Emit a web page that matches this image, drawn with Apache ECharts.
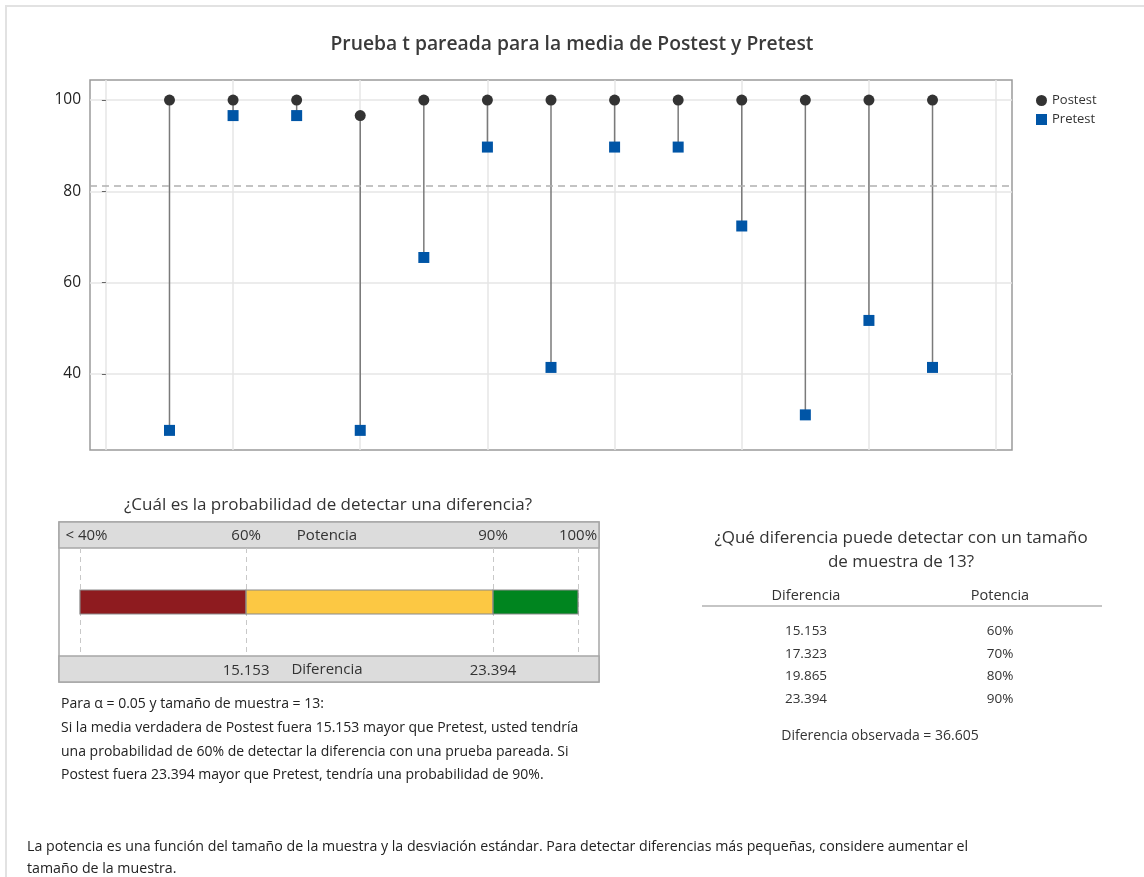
<!DOCTYPE html>
<html>
<head>
<meta charset="utf-8">
<script src="https://cdn.jsdelivr.net/npm/echarts@6/dist/echarts.min.js"></script>
<style>
  html, body { margin: 0; padding: 0; background: #fff; }
  #main { width: 1144px; height: 877px; }
</style>
</head>
<body>
<div id="main"></div>
<script>
// datos de la grafica de valores individuales
var obs = [1, 2, 3, 4, 5, 6, 7, 8, 9, 10, 11, 12, 13]
var postest = [100, 100, 100, 96.6, 100, 100, 100, 100, 100, 100, 100, 100, 100]
var pretest = [27.6, 96.6, 96.6, 27.6, 65.5, 89.7, 41.4, 89.7, 89.7, 72.4, 31.0, 51.7, 41.4]
var grandMean = 81.3
var yTicks = [40, 60, 80, 100]
var xGridTicks = [0, 2, 4, 6, 8, 10, 12, 14]

// barra de potencia (escala de diferencia)
var powerBreaks = [9.61, 15.153, 23.394, 26.23]
var powerLabels = ['< 40%', '60%', '90%', '100%']
var diffTicks = [15.153, 23.394]
var segColors = ['#8e1b1f', '#fcc843', '#00851f']

// tabla de la derecha
var tableDiff = ['15.153', '17.323', '19.865', '23.394']
var tablePower = ['60%', '70%', '80%', '90%']
var observedDiff = '36.605'

var FONT = "'Segoe UI', 'Open Sans', sans-serif"

var pairData = obs.map(function (x, i) { return [x, postest[i], pretest[i]] })
var postData = obs.map(function (x, i) { return [x, postest[i]] })
var preData = obs.map(function (x, i) { return [x, pretest[i]] })
var segData = []
for (var i = 0; i < powerBreaks.length - 1; i++) {
  segData.push([powerBreaks[i], powerBreaks[i + 1], 0])
}

var graphics = [
  // marco de la pagina
  { type: 'rect', z: -10, shape: { x: 6, y: 6, width: 1160, height: 900 }, style: { fill: 'none', stroke: '#e2e2e2', lineWidth: 2 } },
  // caja de potencia
  { type: 'rect', z: -5, shape: { x: 59, y: 522, width: 540, height: 160 }, style: { fill: '#fff', stroke: '#a6a6a6', lineWidth: 1.5 } },
  { type: 'rect', z: -4, shape: { x: 59, y: 522, width: 540, height: 26 }, style: { fill: '#dcdcdc', stroke: '#a6a6a6', lineWidth: 1.5 } },
  { type: 'rect', z: -4, shape: { x: 59, y: 656, width: 540, height: 26 }, style: { fill: '#dcdcdc', stroke: '#a6a6a6', lineWidth: 1.5 } },
  { type: 'text', z: 10, x: 327, y: 536, style: { text: 'Potencia', fill: '#333', font: '15px ' + FONT, textAlign: 'center', textVerticalAlign: 'middle' } },
  { type: 'text', z: 10, x: 327, y: 670, style: { text: 'Diferencia', fill: '#333', font: '15px ' + FONT, textAlign: 'center', textVerticalAlign: 'middle' } },
  // tabla
  { type: 'text', x: 806, y: 596, style: { text: 'Diferencia', fill: '#333', font: '14.5px ' + FONT, textAlign: 'center', textVerticalAlign: 'middle' } },
  { type: 'text', x: 1000, y: 596, style: { text: 'Potencia', fill: '#333', font: '14.5px ' + FONT, textAlign: 'center', textVerticalAlign: 'middle' } },
  { type: 'line', shape: { x1: 702, y1: 606, x2: 1102, y2: 606 }, style: { stroke: '#8c8c8c', lineWidth: 1.2 } },
  { type: 'text', x: 880, y: 736, style: { text: 'Diferencia observada = ' + observedDiff, fill: '#333', font: '14px ' + FONT, textAlign: 'center', textVerticalAlign: 'middle' } }
]
tableDiff.forEach(function (d, i) {
  graphics.push({ type: 'text', x: 806, y: 631 + i * 22.7, style: { text: d, fill: '#333', font: '13.5px ' + FONT, textAlign: 'center', textVerticalAlign: 'middle' } })
  graphics.push({ type: 'text', x: 1000, y: 631 + i * 22.7, style: { text: tablePower[i], fill: '#333', font: '13.5px ' + FONT, textAlign: 'center', textVerticalAlign: 'middle' } })
})

// textos de interpretacion
var notes = [
  'Para α = 0.05 y tamaño de muestra = 13:',
  'Si la media verdadera de Postest fuera 15.153 mayor que Pretest, usted tendría',
  'una probabilidad de 60% de detectar la diferencia con una prueba pareada. Si',
  'Postest fuera 23.394 mayor que Pretest, tendría una probabilidad de 90%.'
]
notes.forEach(function (t, i) {
  graphics.push({ type: 'text', x: 61, y: 704 + i * 23.8, style: { text: t, fill: '#222', font: '14px ' + FONT, textVerticalAlign: 'middle' } })
})
var footer = [
  'La potencia es una función del tamaño de la muestra y la desviación estándar. Para detectar diferencias más pequeñas, considere aumentar el',
  'tamaño de la muestra.'
]
footer.forEach(function (t, i) {
  graphics.push({ type: 'text', x: 27, y: 847 + i * 22, style: { text: t, fill: '#222', font: '14.2px ' + FONT, textVerticalAlign: 'middle' } })
})

var chart = echarts.init(document.getElementById('main'))
chart.setOption({
  animation: false,
  textStyle: { fontFamily: FONT },
  title: [
    { text: 'Prueba t pareada para la media de Postest y Pretest', left: 'center', top: 30, textStyle: { fontSize: 19.3, fontWeight: 600, color: '#3a3a3a' } },
    { text: '¿Cuál es la probabilidad de detectar una diferencia?', left: 323, textAlign: 'center', top: 492, textStyle: { fontSize: 17, fontWeight: 'normal', color: '#333' } },
    { text: '¿Qué diferencia puede detectar con un tamaño\nde muestra de 13?', left: 896, textAlign: 'center', top: 521, textStyle: { fontSize: 17, fontWeight: 'normal', color: '#333', lineHeight: 24, align: 'center' } }
  ],
  legend: {
    left: 1031, top: 89, orient: 'vertical', itemWidth: 11, itemHeight: 11, itemGap: 6,
    textStyle: { fontSize: 13, color: '#333' },
    data: ['Postest', 'Pretest']
  },
  grid: [
    { left: 90, right: 132, top: 80, bottom: 427, show: true, borderColor: '#9a9a9a', borderWidth: 1.5, backgroundColor: 'transparent' },
    { left: 59, right: 545, top: 548, bottom: 221 }
  ],
  xAxis: [
    {
      type: 'value', gridIndex: 0, min: -0.25, max: 14.25,
      axisLine: { show: false },
      axisTick: { show: false, customValues: xGridTicks },
      axisLabel: { show: false, customValues: xGridTicks },
      splitLine: { show: true, lineStyle: { color: '#e6e6e6', width: 1.5 } }
    },
    {
      type: 'value', gridIndex: 1, position: 'bottom', min: 8.91, max: 26.93,
      axisLine: { show: false },
      axisTick: { show: false, customValues: diffTicks },
      axisLabel: { customValues: diffTicks, margin: 7, fontSize: 15, color: '#333', formatter: function (v) { return v.toFixed(3) } },
      splitLine: { show: false }
    },
    {
      type: 'value', gridIndex: 1, position: 'top', min: 8.91, max: 26.93,
      axisLine: { show: false },
      axisTick: { show: false, customValues: powerBreaks },
      axisLabel: {
        customValues: powerBreaks, margin: 5, fontSize: 15, color: '#333',
        formatter: function (v) {
          var k = powerBreaks.indexOf(v)
          return k === 0 ? '{first|' + powerLabels[k] + '}' : powerLabels[k]
        },
        rich: { first: { fontSize: 15, color: '#333', padding: [0, 0, 0, 13] } }
      },
      splitLine: { show: true, lineStyle: { color: '#c8c8c8', type: [5, 4], width: 1 } }
    }
  ],
  yAxis: [
    {
      type: 'value', gridIndex: 0, min: 23.3, max: 104.4,
      axisLine: { show: false },
      axisTick: { show: true, length: 4, customValues: yTicks, lineStyle: { color: '#666' } },
      axisLabel: { customValues: yTicks, margin: 9, fontSize: 15.5, color: '#222' },
      splitLine: { show: true, lineStyle: { color: '#e6e6e6', width: 1.5 } }
    },
    {
      type: 'category', gridIndex: 1, data: ['bar'],
      axisLine: { show: false }, axisTick: { show: false }, axisLabel: { show: false }, splitLine: { show: false }
    }
  ],
  series: [
    {
      // lineas que unen cada par
      type: 'custom', name: 'pares', xAxisIndex: 0, yAxisIndex: 0, silent: true, z: 1,
      data: pairData,
      encode: { x: 0, y: [1, 2] },
      renderItem: function (params, api) {
        var p1 = api.coord([api.value(0), api.value(1)])
        var p2 = api.coord([api.value(0), api.value(2)])
        return { type: 'line', shape: { x1: p1[0], y1: p1[1], x2: p2[0], y2: p2[1] }, style: { stroke: '#7a7a7a', lineWidth: 1.5 } }
      },
      markLine: {
        silent: true, symbol: 'none', label: { show: false },
        lineStyle: { color: '#b0b0b0', type: [7, 5], width: 1.5 },
        data: [{ yAxis: grandMean }]
      }
    },
    {
      type: 'scatter', name: 'Postest', xAxisIndex: 0, yAxisIndex: 0, z: 3,
      symbol: 'circle', symbolSize: 11, data: postData,
      itemStyle: { color: '#333333', opacity: 1 }
    },
    {
      type: 'scatter', name: 'Pretest', xAxisIndex: 0, yAxisIndex: 0, z: 3,
      symbol: 'rect', symbolSize: 11, data: preData,
      itemStyle: { color: '#0055a6', opacity: 1 }
    },
    {
      // barra de potencia
      type: 'custom', xAxisIndex: 2, yAxisIndex: 1, silent: true,
      data: segData,
      encode: { x: [0, 1], y: 2 },
      renderItem: function (params, api) {
        var s = api.coord([api.value(0), 0])
        var e = api.coord([api.value(1), 0])
        return { type: 'rect', shape: { x: s[0], y: s[1] - 12, width: e[0] - s[0], height: 24 }, style: { fill: segColors[params.dataIndex], stroke: '#8a8a8a', lineWidth: 1.2 } }
      }
    }
  ],
  graphic: graphics
})
</script>
</body>
</html>
